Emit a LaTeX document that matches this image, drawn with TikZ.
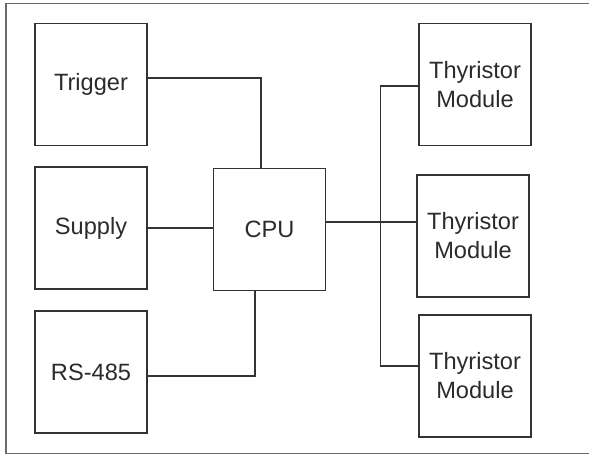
\documentclass[tikz,border=0pt]{standalone}
\usepackage{fontspec}
\setmainfont{Liberation Sans}
\usetikzlibrary{positioning}
\definecolor{ink}{HTML}{2B2B2B}
\definecolor{wire}{HTML}{333333}
\definecolor{frame}{HTML}{6A6A6A}

\begin{document}
\begin{tikzpicture}[x=0.5pt,y=-0.5pt,font=\fontsize{11.8}{14.5}\selectfont,every node/.style={text=ink},
  unit/.style={draw=wire,line width=.8pt,minimum width=56pt,minimum height=61pt,inner sep=0pt,align=center},
  link/.style={draw=wire,line width=.8pt}]
% Page size fixed to the reference; the outer frame runs past the right edge.
\useasboundingbox (0,0) rectangle (589,455);
\begin{scope}
\clip (0,0) rectangle (589,455);
\draw[frame,line width=.9pt] (6,3.5) rectangle (620,453.5);
\end{scope}
% Inputs on the left, controller in the middle, power stages on the right.
\node[unit] (trigger) at (91,84.5) {Trigger};
\node[unit] (supply) at (91,228) {Supply};
\node[unit] (rs) at (91,372) {RS-485};
\node[unit] (cpu) at (269.5,229.5) {CPU};
\node[unit] (thyA) at (475,84.5) {Thyristor\\Module};
\node[unit] (thyB) at (473,236) {Thyristor\\Module};
\node[unit] (thyC) at (475,376) {Thyristor\\Module};
\coordinate (bus) at (380.5,222);
% Wiring
\draw[link] ([yshift=3.25pt]trigger.east) -| ([xshift=-4.25pt]cpu.north);
\draw[link] (supply.east) -- (supply.east -| cpu.west);
\draw[link] ([yshift=-2pt]rs.east) -| ([xshift=-7.25pt]cpu.south);
\draw[link] ([yshift=3.75pt]cpu.east) -- ([yshift=7pt]thyB.west);
\draw[link] ([yshift=-.75pt]thyA.west) -| (bus) |- ([yshift=5pt]thyC.west);
\end{tikzpicture}
\end{document}
